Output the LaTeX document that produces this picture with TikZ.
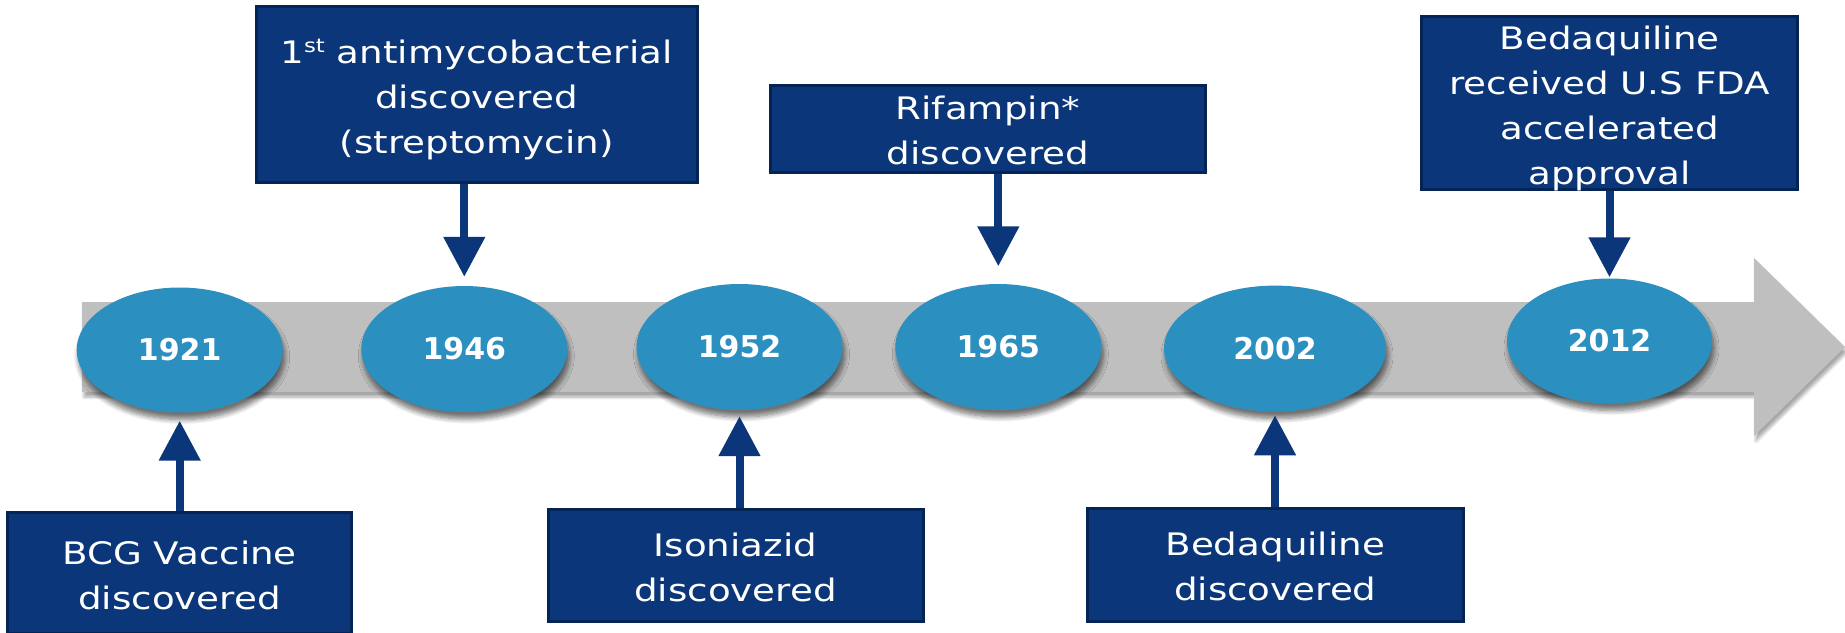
\documentclass[tikz,border=0pt]{standalone}
\usepackage{fontspec}
\setmainfont{DejaVu Sans}
\newfontfamily\boxfont{DejaVu Sans}[FakeStretch=1.2]
\usetikzlibrary{arrows.meta,shapes.geometric,shadows.blur,calc}
\definecolor{navyfill}{RGB}{11,54,121}
\definecolor{navyedge}{RGB}{5,36,86}
\definecolor{yearblue}{RGB}{43,143,192}
\definecolor{bargray}{RGB}{191,191,191}
\begin{document}
\begin{tikzpicture}[x=1bp,y=-1bp,
  evbox/.style={draw=navyedge, line width=3bp, fill=navyfill, inner sep=0pt, rectangle},
  evtext/.style={text=white, align=center, inner sep=0pt, font=\boxfont\fontsize{31bp}{45bp}\selectfont},
  yearell/.style={ellipse, fill=yearblue, text=white, inner sep=0pt,
    font=\bfseries\fontsize{30bp}{36bp}\selectfont,
    blur shadow={shadow xshift=2bp, shadow yshift=-7bp, shadow blur radius=5bp, shadow blur steps=8, shadow opacity=55}},
  link/.style={draw=navyfill, line width=8bp, -{Triangle[width=40bp,length=40bp]}}
]
\useasboundingbox (0,0) rectangle (1845,633);

% timeline bar
\fill[bargray, blur shadow={shadow xshift=2bp, shadow yshift=-5bp, shadow blur radius=3bp, shadow blur steps=6, shadow opacity=35}]
  (82,302) -- (1754,302) -- (1754,258) -- (1845,347) -- (1754,436) -- (1754,392) -- (82,392) -- cycle;

% year ellipses
\node[yearell, minimum width=206bp, minimum height=125bp] (e1921) at (179.7,350) {1921};
\node[yearell, minimum width=206bp, minimum height=126bp] (e1946) at (464.3,349) {1946};
\node[yearell, minimum width=206bp, minimum height=126bp] (e1952) at (739.5,347) {1952};
\node[yearell, minimum width=206bp, minimum height=126bp] (e1965) at (998.3,347) {1965};
\node[yearell, minimum width=222bp, minimum height=126bp] (e2002) at (1275,348.6) {2002};
\node[yearell, minimum width=205bp, minimum height=125bp] (e2012) at (1609.5,341) {2012};

% event boxes
\node[evbox, minimum width=343bp, minimum height=121bp] (b1921) at (179.5,572.5) {};
\node[evbox, minimum width=441bp, minimum height=175bp] (b1946) at (476.5,94.5) {};
\node[evbox, minimum width=375bp, minimum height=112bp] (b1952) at (735.5,565.6) {};
\node[evbox, minimum width=435bp, minimum height=86.5bp] (b1965) at (988,128.8) {};
\node[evbox, minimum width=375.5bp, minimum height=113bp] (b2002) at (1275.3,564.5) {};
\node[evbox, minimum width=376bp, minimum height=172bp] (b2012) at (1609.7,103) {};

% event texts
\node[evtext] (t1921) at ($(b1921.center)+(0,3.2)$) {BCG Vaccine\\discovered};
\node[evtext] (t1946) at ($(b1946.center)+(0,5.9)$) {1\smash{\raisebox{0.36em}{\fontsize{19bp}{19bp}\selectfont st}} antimycobacterial\\discovered\\(streptomycin)};
\node[evtext] (t1952) at ($(b1952.center)+(0,2)$) {Isoniazid\\discovered};
\node[evtext] (t1965) at ($(b1965.center)+(0,1.9)$) {Rifampin*\\discovered};
\node[evtext] (t2002) at ($(b2002.center)+(0,1.5)$) {Bedaquiline\\discovered};
\node[evtext] (t2012) at ($(b2012.center)+(0,5.5)$) {Bedaquiline\\received U.S FDA\\accelerated\\approval};

% connectors
\draw[link] (b1921.north -| e1921.south) -- ([yshift=-8bp]e1921.south);
\draw[link] (b1946.south -| e1946.north) -- ([yshift=9bp]e1946.north);
\draw[link] (b1952.north -| e1952.south) -- ([yshift=-6bp]e1952.south);
\draw[link] (b1965.south -| e1965.north) -- ([yshift=17.5bp]e1965.north);
\draw[link] (b2002.north -| e2002.south) -- ([yshift=-3.5bp]e2002.south);
\draw[link] (b2012.south -| e2012.north) -- ([yshift=1bp]e2012.north);
\end{tikzpicture}
\end{document}
